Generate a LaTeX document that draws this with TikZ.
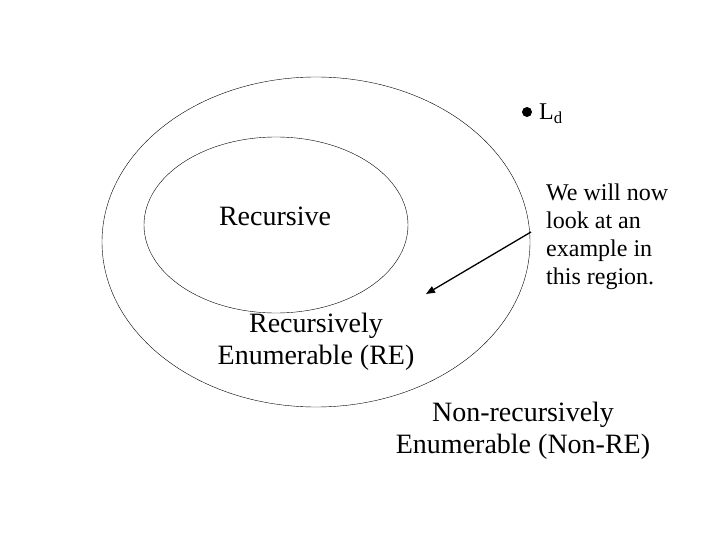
\documentclass[tikz,border=0pt]{standalone}
\usepackage{fontspec}
\setmainfont{Liberation Serif}
\usetikzlibrary{positioning,arrows.meta}

\begin{document}
\begin{tikzpicture}[x=1pt,y=-1pt,
    lbl/.style={font=\fontsize{28}{32}\selectfont, inner sep=0pt}]
    \useasboundingbox (0,0) rectangle (720,540);

    % Sets
    \draw[thin] (316,242) ellipse [x radius=214, y radius=165];
    \draw[thin] (276,225) ellipse [x radius=132, y radius=88];

    % Labels
    \node[lbl] (rec) at (275,216) {Recursive};
    \node[lbl, align=center] (re) at (316,342) {Recursively\\Enumerable (RE)};
    \node[lbl, align=center] (nonre) at (523,431) {Non-recursively\\Enumerable (Non-RE)};

    % Ld
    \fill (527,112) circle (5);
    \node[lbl, anchor=west, font=\fontsize{24}{28}\selectfont] (ld) at (539,114) {L\textsubscript{d}};

    % Note
    \node[lbl, align=left, anchor=north west, font=\fontsize{24}{28}\selectfont] (note) at (546,184)
      {We will now\\look at an\\example in\\this region.};
    \coordinate (tip) at (426,294);
    \draw[line width=1.3pt, -{Triangle[length=9pt,width=7pt]}] (531,232) -- (tip);
\end{tikzpicture}
\end{document}
